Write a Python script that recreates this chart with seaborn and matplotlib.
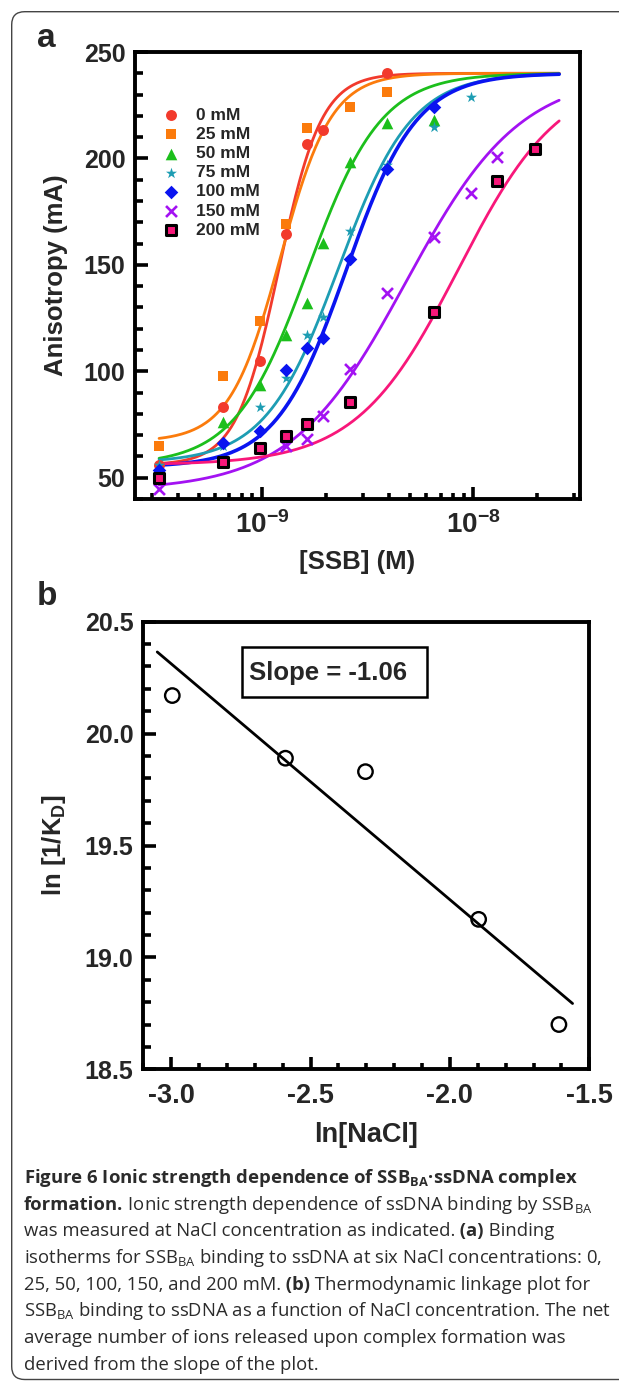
import numpy as np
import pandas as pd
import seaborn as sns
import matplotlib.pyplot as plt
from matplotlib import font_manager, ticker
from matplotlib.patches import FancyBboxPatch, Rectangle

nan = np.nan

# ---- panel a: anisotropy titrations at each NaCl concentration ----
ssb_conc = [3.25e-10, 6.5e-10, 9.75e-10, 1.3e-9, 1.625e-9, 1.95e-9,
            2.6e-9, 3.9e-9, 6.5e-9, 9.75e-9, 1.3e-8, 1.95e-8]
aniso_0mM = [56, 83.0, 104.9, 164.5, 206.7, 213.4, nan, 240.0, nan, nan, nan, nan]
aniso_25mM = [64.7, 97.6, 123.7, 169.2, 214.2, nan, 224.3, 231.4, nan, nan, nan, nan]
aniso_50mM = [54.7, 76.4, 93.7, 117.1, 132.0, 160.2, 198.2, 216.8, 218.1, nan, nan, nan]
aniso_75mM = [56, 65, 83.0, 96.8, 117.1, 125.7, 166.0, 196.9, 214.9, 228.7, nan, nan]
aniso_100mM = [53.8, 66.3, 71.8, 100.7, 110.9, 115.6, 152.7, 194.9, 224.3, nan, nan, nan]
aniso_150mM = [44.7, nan, nan, 64.7, 68.1, 79.1, 101.0, 136.7, 163.3, 183.7, 200.8, nan]
aniso_200mM = [49.9, 57.6, 63.9, 69.7, 75.2, nan, 85.4, nan, 127.8, nan, 189.4, 204.3]

salt_labels = ['0 mM', '25 mM', '50 mM', '75 mM', '100 mM', '150 mM', '200 mM']

# Hill fit parameters for the drawn curves
fit_bottom = [56, 67, 56, 57, 55, 44, 56]
fit_top = [240, 240, 240, 240, 240, 240, 240]
fit_k = [1.2e-9, 1.22e-9, 1.65e-9, 2.3e-9, 2.5e-9, 4.8e-9, 8.5e-9]
fit_n = [4.3, 3.6, 2.5, 2.5, 2.6, 1.6, 1.8]
fit_range = [3.25e-10, 2.55e-8]

# ---- panel b: linkage plot ----
ln_nacl = [-2.996, -2.590, -2.303, -1.897, -1.609]
ln_inv_kd = [20.17, 19.89, 19.83, 19.17, 18.70]
line_range = [-3.05, -1.56]

colors = ['#f23a2c', '#fb7b0c', '#1cbf1c', '#1d9db3', '#0a14f0', '#a312f2', '#f8177a']
markers = ['o', 's', '^', '*', 'D', 'x', 's']
sizes = [62, 59, 70, 70, 48, 62, 50]
edges = [None, None, None, None, None, None, 'black']
edge_w = [0, 0, 0, 0, 0, 1.9, 2.2]
curve_w = [2.0, 2.0, 2.0, 2.0, 2.6, 2.0, 2.0]

sns.set_theme(style='ticks')
names = {f.name for f in font_manager.fontManager.ttflist}
plot_font = 'Liberation Sans Narrow' if 'Liberation Sans Narrow' in names else 'Liberation Sans'
plt.rcParams['font.family'] = [plot_font, 'DejaVu Sans']
plt.rcParams['axes.unicode_minus'] = False
plt.rcParams['mathtext.fontset'] = 'custom'
plt.rcParams['mathtext.rm'] = 'Open Sans'
plt.rcParams['mathtext.it'] = 'Open Sans:bold'
plt.rcParams['mathtext.bf'] = plot_font + ':bold'

W, H = 619, 1382
fig = plt.figure(figsize=(W / 100, H / 100), dpi=100)


def box(left, top, right, bottom):
    return [left / W, 1 - bottom / H, (right - left) / W, (bottom - top) / H]


# ================= panel a =================
ax_a = fig.add_axes(box(135, 52, 580, 499))
ax_a.set_xscale('log')

series = [aniso_0mM, aniso_25mM, aniso_50mM, aniso_75mM, aniso_100mM, aniso_150mM, aniso_200mM]
grid = np.geomspace(fit_range[0], fit_range[1], 300)
for i in range(len(series)):
    fit_y = fit_bottom[i] + (fit_top[i] - fit_bottom[i]) * grid ** fit_n[i] / (fit_k[i] ** fit_n[i] + grid ** fit_n[i])
    sns.lineplot(x=grid, y=fit_y, color=colors[i], linewidth=curve_w[i], ax=ax_a, zorder=2)

for i, vals in enumerate(series):
    df = pd.DataFrame({'conc': ssb_conc, 'aniso': vals}).dropna()
    sns.scatterplot(data=df, x='conc', y='aniso', marker=markers[i], s=sizes[i],
                    color=colors[i], edgecolor=edges[i] or colors[i],
                    linewidth=edge_w[i], label=salt_labels[i], ax=ax_a, zorder=3)

ax_a.set_xlim(2.5e-10, 3.2e-8)
ax_a.set_ylim(40, 250)
ax_a.xaxis.set_major_locator(ticker.FixedLocator([1e-9, 1e-8]))
ax_a.set_xticklabels([r'$\mathbf{10^{-9}}$', r'$\mathbf{10^{-8}}$'])
ax_a.xaxis.set_minor_locator(ticker.LogLocator(base=10, subs=np.arange(2, 10), numticks=20))
ax_a.xaxis.set_minor_formatter(ticker.NullFormatter())
ax_a.yaxis.set_major_locator(ticker.MultipleLocator(50))
ax_a.yaxis.set_minor_locator(ticker.MultipleLocator(10))

ax_a.set_xlabel('[SSB] (M)', fontsize=18.5, fontweight='bold')
ax_a.set_ylabel('Anisotropy (mA)', fontsize=18.5, fontweight='bold')
ax_a.xaxis.set_label_coords(0.5, -0.113)
ax_a.yaxis.set_label_coords(-0.15, 0.5)

leg = ax_a.legend(loc='center left', bbox_to_anchor=(0.062, 0.73), frameon=False,
                  borderaxespad=0, borderpad=0, handlelength=1.0, handletextpad=0.95,
                  labelspacing=0.23, scatterpoints=1,
                  prop={'family': [plot_font], 'weight': 'bold', 'size': 12.5})

# ================= panel b =================
ax_b = fig.add_axes(box(143.3, 621.7, 589.3, 1069.3))
sns.scatterplot(x=ln_nacl, y=ln_inv_kd, marker='o', s=108, color='black',
                facecolor='none', edgecolor='black', linewidth=1.7, ax=ax_b, zorder=3)
coef = np.polyfit(ln_nacl, ln_inv_kd, 1)
sns.lineplot(x=line_range, y=np.polyval(coef, line_range), color='black', linewidth=2.0, ax=ax_b)

ax_b.set_xlim(-3.1, -1.5)
ax_b.set_ylim(18.5, 20.5)
ax_b.xaxis.set_major_locator(ticker.MultipleLocator(0.5))
ax_b.xaxis.set_minor_locator(ticker.MultipleLocator(0.1))
ax_b.yaxis.set_major_locator(ticker.MultipleLocator(0.5))
ax_b.yaxis.set_minor_locator(ticker.MultipleLocator(0.1))
ax_b.xaxis.set_major_formatter(ticker.FormatStrFormatter('%.1f'))
ax_b.yaxis.set_major_formatter(ticker.FormatStrFormatter('%.1f'))
ax_b.set_xlabel('ln[NaCl]', fontsize=19.5, fontweight='bold')
ax_b.set_ylabel(r'ln [1/$\mathbf{K_D}$]', fontsize=18.5, fontweight='bold')
ax_b.xaxis.set_label_coords(0.5, -0.118)
ax_b.yaxis.set_label_coords(-0.168, 0.5)

ax_b.add_patch(Rectangle(((242.3 - 143.3) / 446, 1 - (697.3 - 621.7) / 447.6),
                         184.4 / 446, 50.6 / 447.6, transform=ax_b.transAxes,
                         fill=False, edgecolor='black', linewidth=1.8, zorder=4))
ax_b.text((249 - 143.3) / 446, 1 - (680 - 621.7) / 447.6, 'Slope = -1.06',
          transform=ax_b.transAxes, fontsize=18.5, fontweight='bold', va='baseline', ha='left')

for ax in (ax_a, ax_b):
    for sp in ax.spines.values():
        sp.set_linewidth(2.8)
        sp.set_color('black')
    ax.tick_params(which='both', direction='in', width=2.6, color='black',
                   top=False, right=False)
    ax.tick_params(which='major', length=9)
    ax.tick_params(axis='y', which='minor', length=5.5)
    ax.tick_params(axis='x', which='minor', length=4.5)

ax_a.tick_params(axis='y', labelsize=18, pad=7)
ax_a.tick_params(axis='x', labelsize=20, pad=9)
ax_b.tick_params(axis='y', labelsize=18, pad=7)
ax_b.tick_params(axis='x', labelsize=19.5, pad=10)
for lab in ax_a.get_yticklabels() + ax_b.get_yticklabels() + ax_b.get_xticklabels():
    lab.set_fontweight('bold')

# panel letters
fig.text(37 / W, 1 - 47 / H, 'a', fontsize=24, fontweight='bold', family='Liberation Sans', va='baseline')
fig.text(37 / W, 1 - 605 / H, 'b', fontsize=24, fontweight='bold', family='Liberation Sans', va='baseline')

# outer frame
fig.patches.append(FancyBboxPatch((0.117, 0.025), 6.4, 13.678,
                                  boxstyle='round,pad=0,rounding_size=0.13',
                                  transform=fig.dpi_scale_trans, fill=False,
                                  edgecolor='#444444', linewidth=1.0))

# caption, one list of (text, weight) pieces per line
caption = [
    [(r'Figure 6 Ionic strength dependence of SSB$_{\mathit{BA}}$·ssDNA complex', 'bold')],
    [('formation.', 'bold'),
     (r' Ionic strength dependence of ssDNA binding by SSB$_{\mathrm{BA}}$', 'normal')],
    [('was measured at NaCl concentration as indicated.', 'normal'), (' (a)', 'bold'),
     (' Binding', 'normal')],
    [(r'isotherms for SSB$_{\mathrm{BA}}$ binding to ssDNA at six NaCl concentrations: 0,', 'normal')],
    [('25, 50, 100, 150, and 200 mM.', 'normal'), (' (b)', 'bold'),
     (' Thermodynamic linkage plot for', 'normal')],
    [(r'SSB$_{\mathrm{BA}}$ binding to ssDNA as a function of NaCl concentration. The net', 'normal')],
    [('average number of ions released upon complex formation was', 'normal')],
    [('derived from the slope of the plot.', 'normal')],
]
cap_ax = fig.add_axes([0, 0, 1, 1])
cap_ax.axis('off')
cap_kw = dict(fontsize=13.3, family='Open Sans', color='#2b2b2b', va='baseline', ha='left')
for i, pieces in enumerate(caption):
    y = 1 - (1183 + i * 26.7) / H
    prev = None
    for text, weight in pieces:
        if prev is None:
            prev = cap_ax.text(24 / W, y, text, fontweight=weight, transform=fig.transFigure, **cap_kw)
        else:
            prev = cap_ax.annotate(text, xy=(1.0, y), xycoords=(prev, 'figure fraction'),
                                   fontweight=weight, **cap_kw)

fig.savefig('out.png', dpi=100)
